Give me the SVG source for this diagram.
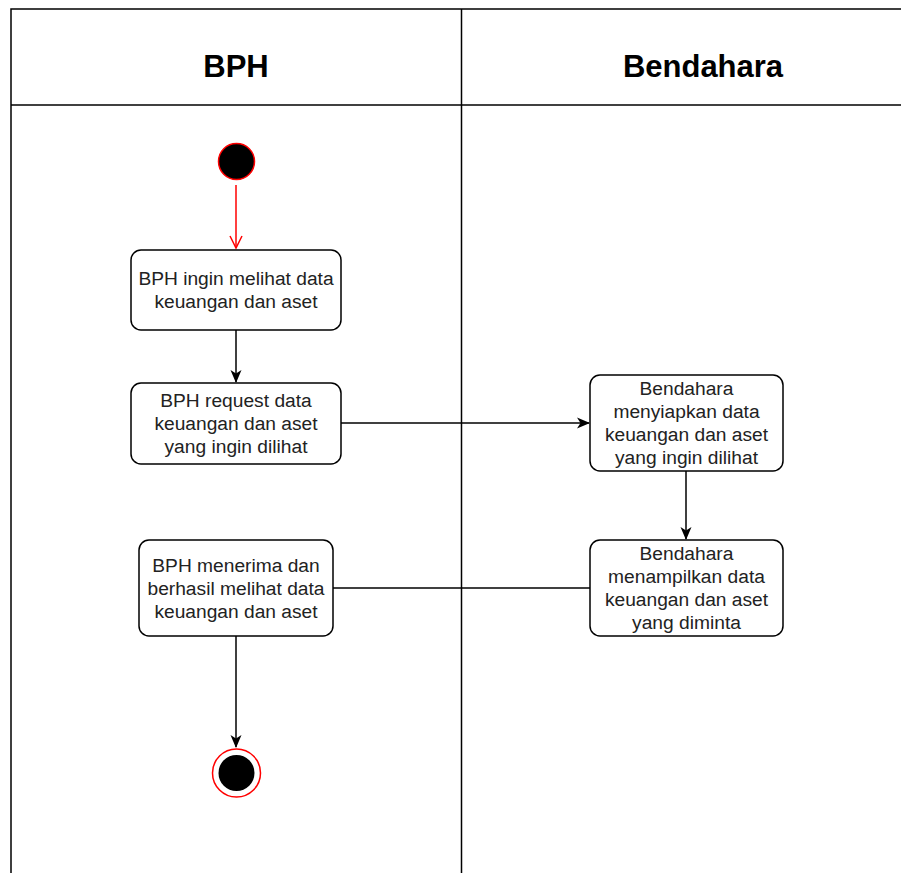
<svg xmlns="http://www.w3.org/2000/svg" width="901" height="873" viewBox="0 0 901 873">
<style>
.lane{fill:none;stroke:#000;stroke-width:1.5}
.hdr{font-family:"Liberation Sans",Arial,sans-serif;font-size:31px;font-weight:bold;fill:#000;text-anchor:middle}
.box{fill:#fff;stroke:#000;stroke-width:1.5}
.t{font-family:"Liberation Sans",Arial,sans-serif;font-size:19.2px;fill:#222;text-anchor:middle}
.edge{fill:none;stroke:#000;stroke-width:1.5}
</style>
<defs>
<marker id="arr" markerWidth="14" markerHeight="14" refX="12" refY="7" orient="auto" markerUnits="userSpaceOnUse">
<path d="M0,1.5 L13,7 L0,12.5 L3.5,7 Z" fill="#000"/>
</marker>
<marker id="open" markerWidth="16" markerHeight="16" refX="13" refY="8" orient="auto" markerUnits="userSpaceOnUse">
<path d="M1,2 L13,8 L1,14" fill="none" stroke="#ff0000" stroke-width="1.5"/>
</marker>
</defs>
<rect width="901" height="873" fill="#fff"/>
<g id="pool">
<path class="lane" d="M11,873 L11,9 L901,9"/>
<path class="lane" d="M11,105 L901,105"/>
<path class="lane" d="M461.5,9 L461.5,873"/>
<text class="hdr" x="236" y="77">BPH</text>
<text class="hdr" x="703" y="77">Bendahara</text>
</g>
<g id="connectors">
<path class="edge" d="M236,185 L236,248" style="stroke:#ff0000" marker-end="url(#open)"/>
<path class="edge" d="M236,330 L236,382" marker-end="url(#arr)"/>
<path class="edge" d="M341,423 L589,423" marker-end="url(#arr)"/>
<path class="edge" d="M686,471 L686,539" marker-end="url(#arr)"/>
<path class="edge" d="M590,588 L333,588"/>
<path class="edge" d="M236,636 L236,747" marker-end="url(#arr)"/>
</g>
<g id="start">
<circle cx="236.5" cy="161.5" r="18" fill="#000" stroke="#ff0000" stroke-width="1.5"/>
</g>
<g id="n1">
<rect class="box" x="131" y="250" width="210" height="80" rx="10"/>
<text class="t" x="236" y="285">BPH ingin melihat data</text>
<text class="t" x="236" y="308">keuangan dan aset</text>
</g>
<g id="n2">
<rect class="box" x="131" y="383" width="210" height="81" rx="10"/>
<text class="t" x="236" y="407">BPH request data</text>
<text class="t" x="236" y="430">keuangan dan aset</text>
<text class="t" x="236" y="453">yang ingin dilihat</text>
</g>
<g id="n3">
<rect class="box" x="590" y="375" width="193" height="96" rx="10"/>
<text class="t" x="686.5" y="395">Bendahara</text>
<text class="t" x="686.5" y="418">menyiapkan data</text>
<text class="t" x="686.5" y="441">keuangan dan aset</text>
<text class="t" x="686.5" y="464">yang ingin dilihat</text>
</g>
<g id="n4">
<rect class="box" x="590" y="540" width="193" height="96" rx="10"/>
<text class="t" x="686.5" y="560">Bendahara</text>
<text class="t" x="686.5" y="583">menampilkan data</text>
<text class="t" x="686.5" y="606">keuangan dan aset</text>
<text class="t" x="686.5" y="629">yang diminta</text>
</g>
<g id="n5">
<rect class="box" x="139" y="540" width="194" height="96" rx="10"/>
<text class="t" x="236" y="572">BPH menerima dan</text>
<text class="t" x="236" y="595">berhasil melihat data</text>
<text class="t" x="236" y="618">keuangan dan aset</text>
</g>
<g id="end">
<circle cx="236.5" cy="773" r="24" fill="#fff" stroke="#ff0000" stroke-width="1.5"/>
<circle cx="236.5" cy="773" r="18" fill="#000"/>
</g>
</svg>
